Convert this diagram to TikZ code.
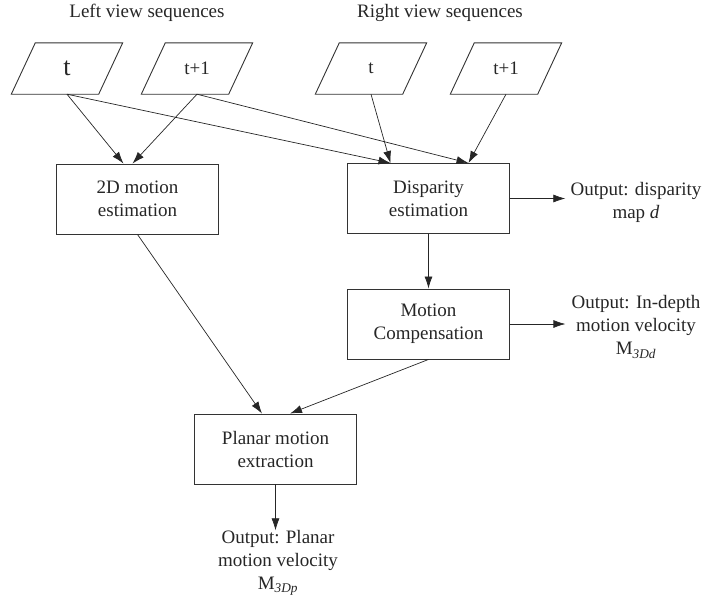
\documentclass[tikz,border=0pt]{standalone}
\usepackage{fontspec}
\setmainfont{Liberation Serif}
\usetikzlibrary{arrows.meta,calc}
\begin{document}
\begin{tikzpicture}[x=1pt,y=-1pt,
  txt/.style={font=\fontsize{19}{23}\selectfont, text=black!85},
  box/.style={txt, draw=black!80, line width=0.9pt, minimum width=162pt, minimum height=70pt, align=center, inner sep=0pt},
  pg/.style={txt, minimum width=87pt, minimum height=51pt, inner sep=0pt},
  pgline/.style={draw=black!80, line width=0.9pt},
  lbl/.style={txt, align=center, inner sep=0pt},
  arr/.style={draw=black!85, -{Latex[length=12pt,width=8pt]}, line width=0.7pt},
]
\useasboundingbox (0,0) rectangle (707,603);
% titles
\node[lbl] (ltitle) at (147,13) {Left view sequences};
\node[lbl] (rtitle) at (440,13) {Right view sequences};
% input frames
\node[pg] (lt)  at (67,68.5)  {\fontsize{26}{26}\selectfont t};
\node[pg] (lt1) at (197,68.5) {t+1};
\node[pg] (rt)  at (371,68.5) {t};
\node[pg] (rt1) at (506,68.5) {t+1};
\foreach \n in {lt,lt1,rt,rt1}
  \draw[pgline] ($(\n.north west)+(12,0)$) -- ($(\n.north east)+(12,0)$)
    -- ($(\n.south east)+(-12,0)$) -- ($(\n.south west)+(-12,0)$) -- cycle;
% processing boxes
\node[box] (me) at (137.5,199)   {2D motion\\estimation};
\node[box] (de) at (428.5,198.5) {Disparity\\estimation};
\node[box] (mc) at (428.5,324)   {Motion\\Compensation};
\node[box] (pm) at (275.5,449)   {Planar motion\\extraction};
% outputs
\node[lbl] (od) at (636,202.5) {Output: disparity\\map \textit{d}};
\node[lbl] (om) at (636,327)   {Output: In-depth\\motion velocity\\M\textsubscript{\textit{3Dd}}};
\node[lbl] (op) at (278,563)   {Output: Planar\\motion velocity\\M\textsubscript{\textit{3Dp}}};
% connectors
\draw[arr] (lt.south)  -- ($(me.north)+(-14,0)$);
\draw[arr] (lt1.south) -- ($(me.north)+(-5,0)$);
\draw[arr] (lt.south)  -- ($(de.north)+(-38,0)$);
\draw[arr] (rt.south)  -- ($(de.north)+(-38,0)$);
\draw[arr] (lt1.south) -- ($(de.north)+(40,0)$);
\draw[arr] (rt1.south) -- ($(de.north)+(40,0)$);
\draw[arr] (me.south)  -- ($(pm.north)+(-13.5,0)$);
\draw[arr] (mc.south)  -- ($(pm.north)+(14.5,0)$);
\draw[arr] (de.south)  -- (mc.north);
\draw[arr, shorten >=5pt] (de.east) -- (de.east -| od.west);
\draw[arr, shorten >=6pt] (mc.east) -- (mc.east -| om.west);
\draw[arr] (pm.south) -- (pm.south |- op.north);
\end{tikzpicture}
\end{document}
